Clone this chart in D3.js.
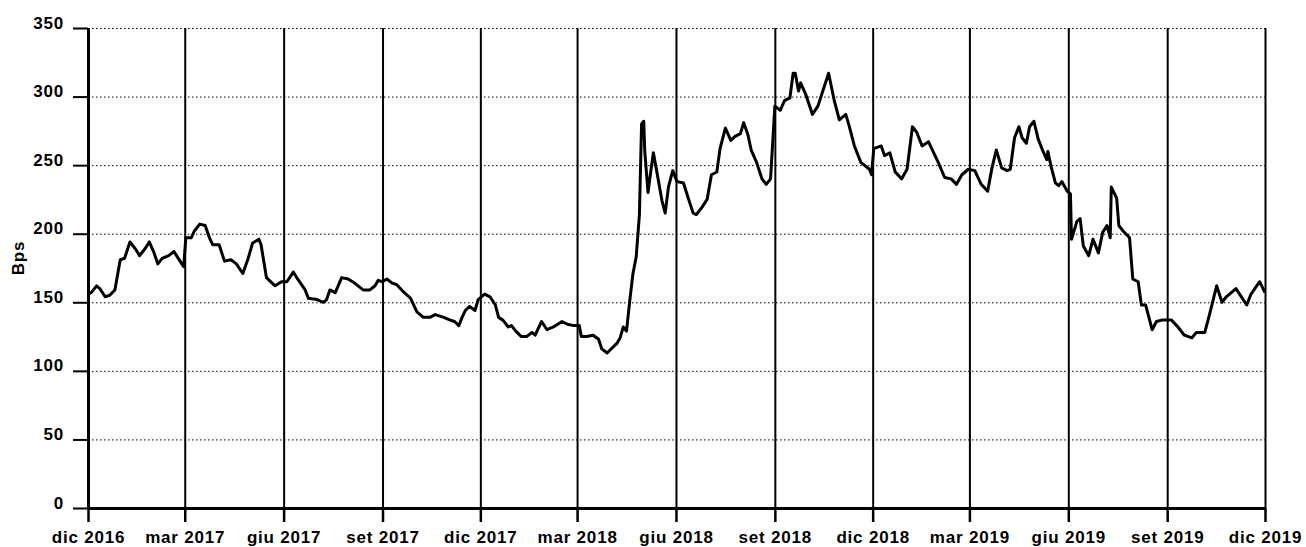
<!DOCTYPE html>
<html>
<head>
<meta charset="utf-8">
<script src="https://cdn.jsdelivr.net/npm/d3@7"></script>
<style>
body { margin: 0; background: #fff; }
.lbl { font-family: "Liberation Sans", Arial, sans-serif; font-weight: bold; font-size: 17px; letter-spacing: 0.8px; fill: #000; }
</style>
</head>
<body>
<script>
var dates = [
  "2016-12-01","2016-12-04","2016-12-09","2016-12-12","2016-12-17","2016-12-21","2016-12-26","2016-12-31",
  "2017-01-04","2017-01-09","2017-01-14","2017-01-18","2017-01-23","2017-01-27","2017-01-31","2017-02-04",
  "2017-02-08","2017-02-14","2017-02-19","2017-02-23","2017-02-28","2017-03-02","2017-03-07","2017-03-10",
  "2017-03-15","2017-03-20","2017-03-24","2017-03-27","2017-04-02","2017-04-07","2017-04-13","2017-04-18",
  "2017-04-24","2017-04-29","2017-05-03","2017-05-09","2017-05-11","2017-05-16","2017-05-24","2017-05-30",
  "2017-06-04","2017-06-10","2017-06-14","2017-06-21","2017-06-24","2017-07-02","2017-07-08","2017-07-11",
  "2017-07-14","2017-07-19","2017-07-25","2017-07-31","2017-08-06","2017-08-14","2017-08-20","2017-08-25",
  "2017-08-28","2017-09-01","2017-09-05","2017-09-10","2017-09-14","2017-09-20","2017-09-27","2017-10-03",
  "2017-10-09","2017-10-15","2017-10-20","2017-10-28","2017-11-03","2017-11-07","2017-11-11","2017-11-14",
  "2017-11-17","2017-11-21","2017-11-26","2017-11-29","2017-12-05","2017-12-10","2017-12-15","2017-12-18",
  "2017-12-22","2017-12-27","2017-12-30","2018-01-03","2018-01-08","2018-01-13","2018-01-18","2018-01-21",
  "2018-01-27","2018-02-01","2018-02-07","2018-02-15","2018-02-20","2018-02-26","2018-03-03","2018-03-05",
  "2018-03-10","2018-03-16","2018-03-21","2018-03-24","2018-03-29","2018-04-03","2018-04-07","2018-04-10",
  "2018-04-13","2018-04-16","2018-04-19","2018-04-22","2018-04-25","2018-04-28","2018-04-30","2018-05-02",
  "2018-05-03","2018-05-06","2018-05-09","2018-05-11","2018-05-14","2018-05-19","2018-05-22","2018-05-25",
  "2018-05-29","2018-06-02","2018-06-08","2018-06-12","2018-06-17","2018-06-20","2018-06-25","2018-06-30",
  "2018-07-04","2018-07-09","2018-07-12","2018-07-17","2018-07-22","2018-07-26","2018-07-31","2018-08-03",
  "2018-08-07","2018-08-10","2018-08-15","2018-08-20","2018-08-24","2018-08-28","2018-09-01","2018-09-06",
  "2018-09-10","2018-09-15","2018-09-18","2018-09-20","2018-09-23","2018-09-25","2018-09-30","2018-10-06",
  "2018-10-11","2018-10-16","2018-10-21","2018-10-26","2018-10-31","2018-11-06","2018-11-09","2018-11-14",
  "2018-11-20","2018-11-28","2018-11-30","2018-12-02","2018-12-09","2018-12-12","2018-12-17","2018-12-22",
  "2018-12-28","2019-01-02","2019-01-07","2019-01-11","2019-01-16","2019-01-22","2019-01-31","2019-02-06",
  "2019-02-12","2019-02-17","2019-02-22","2019-02-28","2019-03-06","2019-03-12","2019-03-18","2019-03-22",
  "2019-03-26","2019-03-31","2019-04-05","2019-04-08","2019-04-12","2019-04-16","2019-04-19","2019-04-23",
  "2019-04-26","2019-04-30","2019-05-04","2019-05-08","2019-05-12","2019-05-13","2019-05-16","2019-05-20",
  "2019-05-23","2019-05-26","2019-05-31","2019-06-03","2019-06-04","2019-06-09","2019-06-12","2019-06-15",
  "2019-06-20","2019-06-24","2019-06-29","2019-07-03","2019-07-07","2019-07-10","2019-07-11","2019-07-16",
  "2019-07-18","2019-07-22","2019-07-28","2019-07-31","2019-08-05","2019-08-08","2019-08-12","2019-08-18",
  "2019-08-22","2019-08-27","2019-09-05","2019-09-11","2019-09-17","2019-09-24","2019-09-28","2019-10-06",
  "2019-10-11","2019-10-17","2019-10-22","2019-10-26","2019-11-04","2019-11-14","2019-11-18","2019-11-26",
  "2019-12-01"
];
var bps = [
  156,157,162,160,154,155,159,181,
  182,194,189,184,189,194,187,178,
  182,184,187,182,176,197,197,202,
  207,206,197,192,192,180,181,178,
  171,182,193,196,192,168,162,165,
  165,172,167,159,153,152,150,152,
  159,157,168,167,164,159,159,162,
  166,165,167,164,163,158,153,143,
  139,139,141,139,137,136,133,139,
  144,147,144,152,156,154,148,139,
  137,132,133,129,125,125,128,126,
  136,130,132,136,134,133,133,125,
  125,126,123,116,113,117,120,124,
  132,129,151,171,183,214,280,282,
  260,230,248,259,246,224,215,234,
  246,238,237,227,215,214,219,225,
  243,245,262,277,268,271,273,281,
  272,261,252,240,236,240,293,290,
  297,299,317,317,304,310,301,287,
  293,305,317,298,283,287,279,264,
  252,247,243,262,264,257,259,245,
  240,247,278,274,264,267,252,241,
  240,236,243,247,246,236,231,248,
  261,248,246,247,270,278,270,266,
  278,282,269,261,254,260,249,237,
  235,238,231,229,196,209,211,191,
  184,196,186,201,206,197,234,226,
  206,202,197,167,165,148,148,130,
  136,137,137,132,126,124,128,128,
  143,162,150,154,160,148,156,165,
  157
];
var xTickDates = ["2016-12-01","2017-03-01","2017-06-01","2017-09-01","2017-12-01","2018-03-01","2018-06-01",
                  "2018-09-01","2018-12-01","2019-03-01","2019-06-01","2019-09-01","2019-12-01"];
var xTickLabels = ["dic 2016","mar 2017","giu 2017","set 2017","dic 2017","mar 2018","giu 2018",
                   "set 2018","dic 2018","mar 2019","giu 2019","set 2019","dic 2019"];
var yTicks = [0, 50, 100, 150, 200, 250, 300, 350];

var svg = d3.select("body")
    .append("svg")
    .attr("width", "1306")
    .attr("height", "547")
    .style("display", "block");
var margin = {top: 28, right: 41, bottom: 39, left: 88};
var width = +svg.attr("width") - margin.left - margin.right;
var height = +svg.attr("height") - margin.top - margin.bottom;
var g = svg.append("g").attr("transform", "translate(" + margin.left + "," + margin.top + ")");

var parse = d3.timeParse("%Y-%m-%d");
var data = dates.map(function (d, i) { return {date: parse(d), value: bps[i]}; });
var tickDates = xTickDates.map(parse);

var x = d3.scaleTime()
    .domain([tickDates[0], tickDates[tickDates.length - 1]])
    .range([0, width]);
var y = d3.scaleLinear()
    .domain([0, 350])
    .range([height, 0]);

// dotted horizontal grid
g.append("g")
    .call(d3.axisRight(y).tickValues(yTicks).tickSize(width).tickFormat(""))
    .call(function (s) { s.select(".domain").remove(); })
    .selectAll("line")
    .attr("stroke", "#000")
    .attr("stroke-width", 1)
    .attr("stroke-dasharray", "1.5,2.5");

// solid vertical grid
g.append("g")
    .call(d3.axisBottom(x).tickValues(tickDates).tickSize(-height).tickFormat(""))
    .attr("transform", "translate(0," + height + ")")
    .call(function (s) { s.select(".domain").remove(); })
    .selectAll("line")
    .attr("stroke", "#000")
    .attr("stroke-width", 2);

var line = d3.line()
    .x(function (d) { return x(d.date); })
    .y(function (d) { return y(d.value); });

g.append("path")
    .datum(data)
    .attr("fill", "none")
    .attr("stroke", "#000")
    .attr("stroke-width", 3)
    .attr("stroke-linejoin", "round")
    .attr("d", line);

// x axis
var xAxis = g.append("g")
    .attr("transform", "translate(0," + height + ")")
    .call(d3.axisBottom(x).tickValues(tickDates).tickSize(14).tickSizeOuter(0)
        .tickFormat(function (d, i) { return xTickLabels[i]; }));
xAxis.select(".domain").attr("stroke-width", 3);
xAxis.selectAll("line").attr("stroke-width", 2.5);
xAxis.selectAll("text")
    .attr("class", "lbl")
    .attr("y", 23)
    .attr("dy", "0.71em");
xAxis.attr("font-size", null).attr("font-family", null);

// y axis
var yAxis = g.append("g")
    .call(d3.axisLeft(y).tickValues(yTicks).tickSize(15).tickSizeOuter(0));
yAxis.select(".domain").attr("stroke-width", 3);
yAxis.selectAll("line").attr("stroke-width", 2);
yAxis.selectAll("text")
    .attr("class", "lbl")
    .attr("x", -24)
    .attr("dy", "0");
yAxis.attr("font-size", null).attr("font-family", null);

svg.append("text")
    .attr("class", "lbl")
    .attr("transform", "translate(24,258) rotate(-90)")
    .attr("text-anchor", "middle")
    .text("Bps");
</script>
</body>
</html>
